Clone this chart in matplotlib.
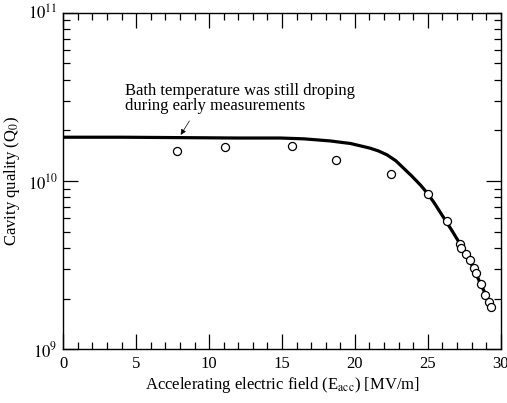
import numpy as np
import matplotlib.pyplot as plt
from matplotlib.ticker import MultipleLocator, LogLocator, NullFormatter, FuncFormatter

plt.rcParams['font.family'] = ['Liberation Serif', 'DejaVu Serif']
plt.rcParams['mathtext.fontset'] = 'stix'

# measured points
e_acc = [7.8, 11.1, 15.7, 18.7, 22.45, 25.0, 26.3, 27.23, 27.26, 27.64, 27.9,
         28.17, 28.3, 28.63, 28.95, 29.2, 29.3]
q0 = [1.51e10, 1.59e10, 1.62e10, 1.33e10, 1.10e10, 8.4e9, 5.8e9, 4.2e9, 3.98e9,
      3.7e9, 3.4e9, 3.04e9, 2.83e9, 2.45e9, 2.11e9, 1.91e9, 1.79e9]

# fitted curve
fit_x = [0, 4, 8, 12, 14.9, 16.5, 18.3, 19.7, 21.0, 21.6, 22.2, 22.8, 23.3, 23.9,
         24.5, 24.9, 25.4, 25.85, 26.2, 26.7, 27.2, 27.6, 28.0, 28.6, 29.15, 29.3]
fit_q = [1.82e10, 1.82e10, 1.81e10, 1.80e10, 1.80e10, 1.78e10, 1.73e10, 1.67e10,
         1.57e10, 1.51e10, 1.43e10, 1.32e10, 1.20e10, 1.07e10, 9.45e9, 8.6e9,
         7.5e9, 6.52e9, 5.85e9, 5.0e9, 4.24e9, 3.7e9, 3.2e9, 2.47e9, 1.96e9, 1.86e9]

fig = plt.figure(figsize=(5.07, 4.03), dpi=100)
ax = fig.add_axes([0.1249, 0.1333, 0.8627, 0.8352])

ax.plot(fit_x, fit_q, color='black', lw=2.3, zorder=2, solid_joinstyle='round')
ax.plot(e_acc, q0, 'o', mfc='white', mec='black', ms=5.8, mew=0.9, zorder=3)

ax.set_yscale('log')
ax.set_xlim(0, 30)
ax.set_ylim(1e9, 1e11)

ax.xaxis.set_major_locator(MultipleLocator(5))
ax.xaxis.set_minor_locator(MultipleLocator(1))
ax.yaxis.set_major_locator(LogLocator(base=10, numticks=10))
ax.yaxis.set_minor_locator(LogLocator(base=10, subs=np.arange(2, 10), numticks=10))
ax.yaxis.set_major_formatter(FuncFormatter(lambda v, p: r'$10^{%d}$' % round(np.log10(v))))
ax.yaxis.set_minor_formatter(NullFormatter())

ax.tick_params(which='both', direction='in', top=True, right=True, labelsize=12, width=0.9)
ax.tick_params(which='major', length=11)
ax.tick_params(which='minor', length=5)
ax.tick_params(axis='x', pad=5)
ax.tick_params(axis='y', pad=4)
for s in ax.spines.values():
    s.set_linewidth(1.0)

ax.set_xlabel(r'Accelerating electric field (E$_{\mathrm{acc}}$) [MV/m]', fontsize=12, labelpad=2)
ax.set_ylabel(r'Cavity quality (Q$_0$)', fontsize=12, labelpad=4)

ax.annotate('Bath temperature was still droping\nduring early measurements',
            xy=(7.95, 1.82e10), xytext=(4.2, 2.5e10), fontsize=12,
            linespacing=0.9, va='bottom', ha='left')
ax.annotate('', xy=(7.95, 1.82e10), xytext=(8.75, 2.35e10),
            arrowprops=dict(arrowstyle='-|>', color='black', lw=0.5,
                            mutation_scale=8))

fig.savefig('out.png', dpi=100)
